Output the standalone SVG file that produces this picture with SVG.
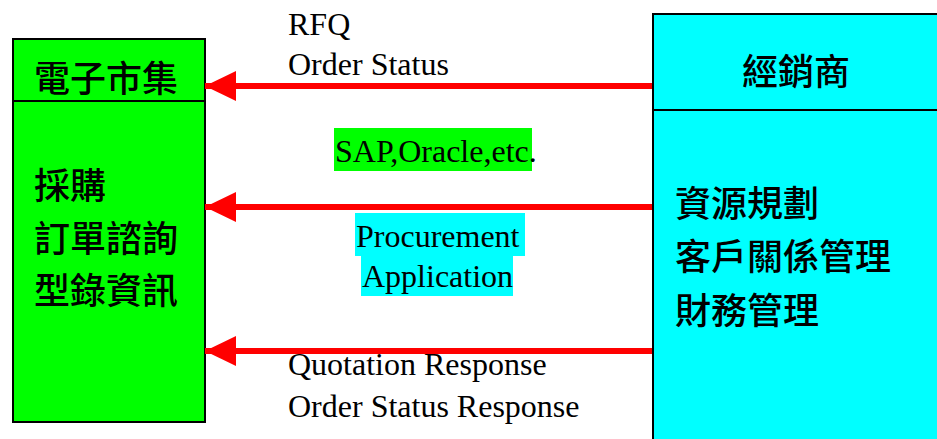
<svg xmlns="http://www.w3.org/2000/svg" width="937" height="439" viewBox="0 0 937 439">
<style>
.box{stroke:#000;stroke-width:2}
.cjk{font-family:"Noto Sans CJK TC","Noto Sans CJK SC",sans-serif;font-size:36px;font-weight:500;fill:#000}
.en{font-family:"Liberation Serif","Times New Roman",serif;font-size:32px;fill:#000}
.arrow{stroke:#ff0000;stroke-width:6;fill:none}
</style>
<defs>
<marker id="ah" markerUnits="userSpaceOnUse" markerWidth="32" markerHeight="32" refX="31" refY="16" orient="auto">
<path d="M0,1 L31,16 L0,31 Z" fill="#ff0000"/>
</marker>
</defs>
<rect width="937" height="439" fill="#fff"/>
<g id="market">
<rect class="box" x="13" y="39" width="192" height="383" fill="#00ff00"/>
<line x1="13" y1="101" x2="205" y2="101" stroke="#000" stroke-width="2"/>
<text class="cjk" x="34" y="92">電子市集</text>
<text class="cjk" x="34" y="199">採購</text>
<text class="cjk" x="34" y="252">訂單諮詢</text>
<text class="cjk" x="34" y="304">型錄資訊</text>
</g>
<g id="dealer">
<rect class="box" x="653" y="14" width="300" height="440" fill="#00ffff"/>
<line x1="653" y1="110" x2="937" y2="110" stroke="#000" stroke-width="2"/>
<text class="cjk" x="742" y="85">經銷商</text>
<text class="cjk" x="675" y="217">資源規劃</text>
<text class="cjk" x="675" y="270">客戶關係管理</text>
<text class="cjk" x="675" y="324">財務管理</text>
</g>
<g id="connectors">
<line class="arrow" x1="652" y1="86" x2="205" y2="86" marker-end="url(#ah)"/>
<line class="arrow" x1="652" y1="207" x2="205" y2="207" marker-end="url(#ah)"/>
<line class="arrow" x1="652" y1="351" x2="205" y2="351" marker-end="url(#ah)"/>
</g>
<g id="labels">
<text class="en" x="288" y="35">RFQ</text>
<text class="en" x="288" y="75">Order Status</text>
<rect x="334" y="128" width="198" height="43" fill="#00ff00"/>
<text class="en" x="335" y="162">SAP,Oracle,etc<tspan>.</tspan></text>
<rect x="355" y="213" width="170" height="43" fill="#00ffff"/>
<rect x="361" y="256" width="152" height="40" fill="#00ffff"/>
<text class="en" x="356" y="247">Procurement</text>
<text class="en" x="362" y="287">Application</text>
<text class="en" x="288" y="375">Quotation Response</text>
<text class="en" x="288" y="417">Order Status Response</text>
</g>
</svg>
